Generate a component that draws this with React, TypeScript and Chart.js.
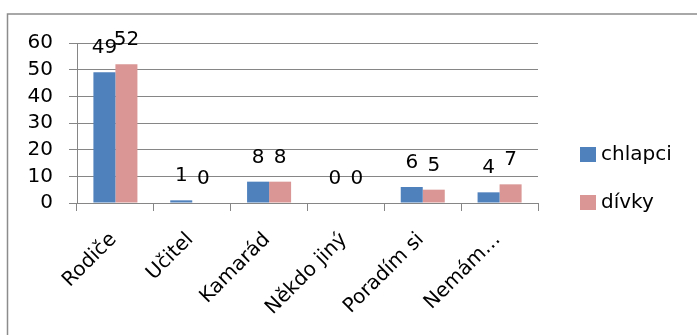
import React, { useEffect, useRef } from "react";
import { Chart, registerables } from "chart.js";

Chart.register(...registerables);

// Odpovědi: komu se svěříš (chlapci / dívky)
const categories = ["Rodiče", "Učitel", "Kamarád", "Někdo jiný", "Poradím si", "Nemám…"];
const chlapci = [49, 1, 8, 0, 6, 4];
const divky = [52, 0, 8, 0, 5, 7];
const seriesNames = ["chlapci", "dívky"];
const seriesColors = ["#4F81BD", "#D99694"];
const yTicks = [0, 10, 20, 30, 40, 50, 60];

const FONT = "'DejaVu Sans', sans-serif";
const FONT_SIZE = 20;
const GRID = "#868686";

// Numbers printed above each bar
const valueLabels = {
  id: "valueLabels",
  afterDatasetsDraw(chart: any) {
    const ctx = chart.ctx;
    ctx.save();
    ctx.font = `${FONT_SIZE}px ${FONT}`;
    ctx.fillStyle = "#000";
    ctx.textAlign = "center";
    ctx.textBaseline = "alphabetic";
    chart.data.datasets.forEach((ds: any, di: number) => {
      const meta = chart.getDatasetMeta(di);
      meta.data.forEach((bar: any, i: number) => {
        ctx.fillText(String(ds.data[i]), bar.x, bar.y - 19);
      });
    });
    ctx.restore();
  },
};

// Thin outer frame (top and left edges)
const frame = {
  id: "frame",
  beforeDraw(chart: any) {
    const ctx = chart.ctx;
    ctx.save();
    ctx.fillStyle = "#fff";
    ctx.fillRect(0, 0, chart.width, chart.height);
    ctx.strokeStyle = "#8c8c8c";
    ctx.lineWidth = 1.5;
    ctx.beginPath();
    ctx.moveTo(7.5, chart.height + 2);
    ctx.lineTo(7.5, 14);
    ctx.lineTo(chart.width + 2, 14);
    ctx.stroke();
    ctx.restore();
  },
};

// Legend on the right: square swatch + series name
const sideLegend = {
  id: "sideLegend",
  afterDraw(chart: any) {
    const ctx = chart.ctx;
    const x = chart.chartArea.right + 42;
    ctx.save();
    ctx.font = `${FONT_SIZE}px ${FONT}`;
    ctx.textAlign = "left";
    ctx.textBaseline = "middle";
    chart.data.datasets.forEach((ds: any, i: number) => {
      const cy = 155 + i * 48;
      ctx.fillStyle = ds.backgroundColor;
      ctx.fillRect(x, cy - 8, 16, 15);
      ctx.fillStyle = "#000";
      ctx.fillText(ds.label, x + 21, cy);
    });
    ctx.restore();
  },
};

export default function App() {
  const canvasRef = useRef<HTMLCanvasElement | null>(null);

  useEffect(() => {
    document.body.style.margin = "0";
    const canvas = canvasRef.current;
    if (!canvas) return;
    const chart = new Chart(canvas, {
      type: "bar",
      data: {
        labels: categories,
        datasets: [
          { label: seriesNames[0], data: chlapci, backgroundColor: seriesColors[0], borderWidth: 0 },
          { label: seriesNames[1], data: divky, backgroundColor: seriesColors[1], borderWidth: 0 },
        ],
      },
      options: {
        responsive: false,
        animation: false,
        devicePixelRatio: 1,
        layout: { padding: { top: 43, right: 159, left: 0, bottom: 0 } },
        datasets: { bar: { categoryPercentage: 0.573, barPercentage: 1 } },
        plugins: {
          legend: { display: false },
          tooltip: { enabled: false },
        },
        scales: {
          x: {
            grid: {
              display: true,
              drawOnChartArea: false,
              drawTicks: true,
              tickLength: 8,
              color: GRID,
              offset: true,
            },
            border: { display: true, color: GRID },
            ticks: {
              autoSkip: false,
              maxRotation: 45,
              minRotation: 45,
              padding: 17,
              labelOffset: -2,
              color: "#000",
              font: { family: FONT, size: FONT_SIZE },
            },
            afterFit: (scale: any) => {
              scale.height = 132;
            },
          },
          y: {
            min: yTicks[0],
            max: yTicks[yTicks.length - 1],
            afterBuildTicks: (scale: any) => {
              scale.ticks = yTicks.map((v) => ({ value: v }));
            },
            grid: { color: GRID, tickLength: 8, drawTicks: true },
            border: { display: true, color: GRID },
            ticks: {
              autoSkip: false,
              stepSize: yTicks[1] - yTicks[0],
              padding: 16,
              color: "#000",
              font: { family: FONT, size: FONT_SIZE, lineHeight: 1 },
            },
            afterFit: (scale: any) => {
              scale.width = 77;
            },
          },
        },
      },
      plugins: [frame, valueLabels, sideLegend],
    });
    return () => chart.destroy();
  }, []);

  return (
    <div style={{ width: 697, height: 335 }}>
      <canvas ref={canvasRef} width={697} height={335} style={{ display: "block", width: 697, height: 335 }} />
    </div>
  );
}
